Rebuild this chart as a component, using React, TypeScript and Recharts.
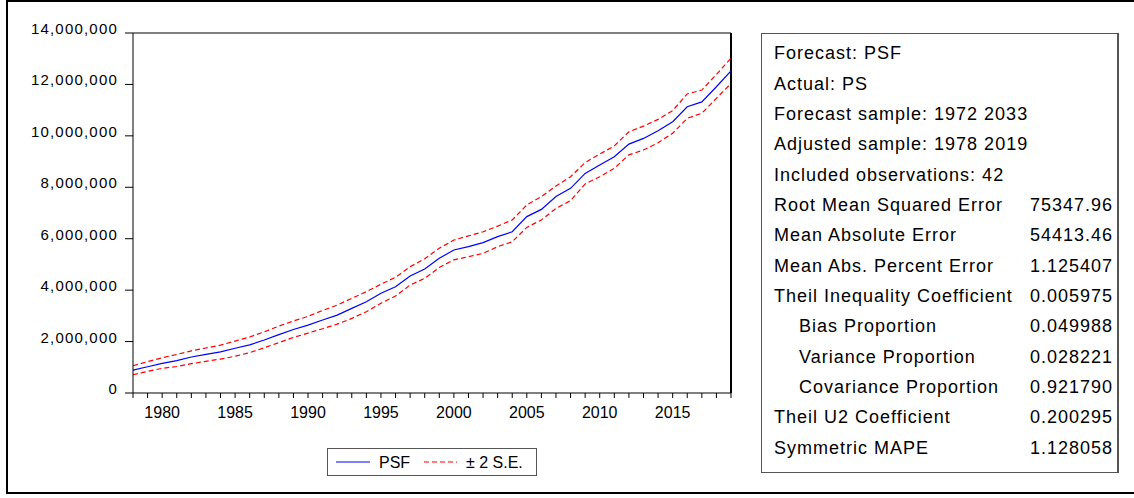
import { LineChart, Line, XAxis, YAxis, ReferenceLine } from 'recharts'

const years = [
  1978, 1979, 1980, 1981, 1982, 1983, 1984, 1985, 1986, 1987, 1988, 1989, 1990, 1991,
  1992, 1993, 1994, 1995, 1996, 1997, 1998, 1999, 2000, 2001, 2002, 2003, 2004, 2005,
  2006, 2007, 2008, 2009, 2010, 2011, 2012, 2013, 2014, 2015, 2016, 2017, 2018, 2019,
]

// forecast PSF
const psf = [
  890000, 1020000, 1150000, 1260000, 1400000, 1500000, 1600000, 1740000, 1870000, 2060000,
  2270000, 2470000, 2640000, 2840000, 3030000, 3290000, 3550000, 3880000, 4130000, 4550000,
  4820000, 5240000, 5560000, 5690000, 5850000, 6080000, 6270000, 6860000, 7140000, 7640000,
  7960000, 8540000, 8870000, 9190000, 9680000, 9900000, 10200000, 10550000, 11130000,
  11320000, 11910000, 12530000,
]

// +2 S.E.
const upperBand = [
  1060000, 1220000, 1370000, 1500000, 1640000, 1750000, 1860000, 2020000, 2180000, 2380000,
  2600000, 2800000, 2980000, 3210000, 3420000, 3680000, 3940000, 4230000, 4500000, 4910000,
  5220000, 5630000, 5950000, 6110000, 6270000, 6490000, 6730000, 7310000, 7640000, 8050000,
  8410000, 8960000, 9290000, 9610000, 10160000, 10380000, 10640000, 10980000, 11630000,
  11780000, 12390000, 13020000,
]

// -2 S.E.
const lowerBand = [
  710000, 840000, 960000, 1030000, 1140000, 1230000, 1320000, 1430000, 1570000, 1760000,
  1960000, 2160000, 2330000, 2500000, 2680000, 2900000, 3160000, 3490000, 3770000, 4200000,
  4460000, 4880000, 5180000, 5300000, 5430000, 5690000, 5880000, 6440000, 6730000, 7180000,
  7480000, 8130000, 8410000, 8740000, 9260000, 9450000, 9730000, 10100000, 10680000,
  10880000, 11460000, 12040000,
]

const yTicks = [0, 2000000, 4000000, 6000000, 8000000, 10000000, 12000000, 14000000]
const xLabels = [1980, 1985, 1990, 1995, 2000, 2005, 2010, 2015]

const statLabels = [
  'Forecast: PSF',
  'Actual: PS',
  'Forecast sample: 1972 2033',
  'Adjusted sample: 1978 2019',
  'Included observations: 42',
  'Root Mean Squared Error',
  'Mean Absolute Error',
  'Mean Abs. Percent Error',
  'Theil Inequality Coefficient',
  'Bias Proportion',
  'Variance Proportion',
  'Covariance Proportion',
  'Theil U2 Coefficient',
  'Symmetric MAPE',
]
const statValues = [
  '', '', '', '', '',
  '75347.96', '54413.46', '1.125407', '0.005975',
  '0.049988', '0.028221', '0.921790', '0.200295', '1.128058',
]
const statIndent = [
  false, false, false, false, false, false, false, false, false,
  true, true, true, false, false,
]

const data = years.map((year, i) => ({
  year,
  psf: psf[i],
  upper: upperBand[i],
  lower: lowerBand[i],
}))

const FONT = '"Liberation Sans", Arial, sans-serif'

function YTick(props: any) {
  const { x, y, payload } = props
  return (
    <text
      x={x}
      y={y + 1}
      textAnchor="end"
      fontFamily={FONT}
      fontSize={15}
      letterSpacing={1.2}
      fill="#000"
    >
      {payload.value.toLocaleString('en-US')}
    </text>
  )
}

function XTick(props: any) {
  const { x, y, payload } = props
  if (!xLabels.includes(payload.value)) return <g />
  return (
    <text x={x} y={y + 18} textAnchor="middle" fontFamily={FONT} fontSize={16} fill="#000">
      {payload.value}
    </text>
  )
}

export default function App() {
  return (
    <div
      style={{
        position: 'absolute',
        left: 0,
        top: 0,
        width: 1134,
        height: 498,
        background: '#fff',
        overflow: 'hidden',
        fontFamily: FONT,
      }}
    >
      {/* page frame */}
      <div
        style={{
          position: 'absolute',
          left: 6,
          top: 0,
          width: 1200,
          height: 494,
          boxSizing: 'border-box',
          border: '2px solid #000',
        }}
      />

      <div style={{ position: 'absolute', left: 0, top: 0 }}>
        <LineChart
          width={760}
          height={430}
          data={data}
          margin={{ top: 33, right: 29, left: 0, bottom: 0 }}
        >
          <XAxis
            dataKey="year"
            type="number"
            domain={[1978, 2019]}
            ticks={years}
            interval={0}
            height={37}
            tickSize={5}
            tickMargin={2}
            axisLine={{ stroke: '#000' }}
            tickLine={{ stroke: '#000' }}
            tick={<XTick />}
          />
          <YAxis
            type="number"
            domain={[0, 14000000]}
            ticks={yTicks}
            interval={0}
            width={133}
            tickSize={8}
            tickMargin={7}
            axisLine={{ stroke: '#000' }}
            tickLine={{ stroke: '#000' }}
            tick={<YTick />}
          />
          <ReferenceLine y={14000000} stroke="#000" strokeWidth={1} />
          <ReferenceLine x={2019} stroke="#000" strokeWidth={2} />
          <Line
            type="linear"
            dataKey="upper"
            stroke="#ff0000"
            strokeWidth={1.2}
            strokeDasharray="5 3"
            dot={false}
            isAnimationActive={false}
          />
          <Line
            type="linear"
            dataKey="lower"
            stroke="#ff0000"
            strokeWidth={1.2}
            strokeDasharray="5 3"
            dot={false}
            isAnimationActive={false}
          />
          <Line
            type="linear"
            dataKey="psf"
            stroke="#0000ff"
            strokeWidth={1.2}
            dot={false}
            isAnimationActive={false}
          />
        </LineChart>
      </div>

      {/* legend */}
      <svg
        width={211}
        height={29}
        style={{ position: 'absolute', left: 327, top: 448 }}
      >
        <rect x={0.5} y={0.5} width={209} height={27} fill="#fff" stroke="#555" />
        <line x1={9} x2={43} y1={14} y2={14} stroke="#0000ff" strokeWidth={1.2} />
        <text x={52} y={19.5} fontFamily={FONT} fontSize={16} fill="#000">
          PSF
        </text>
        <line
          x1={97}
          x2={130}
          y1={14}
          y2={14}
          stroke="#ff0000"
          strokeWidth={1.2}
          strokeDasharray="5 3"
        />
        <text x={139} y={19.5} fontFamily={FONT} fontSize={16} fill="#000">
          ± 2 S.E.
        </text>
      </svg>

      {/* forecast evaluation table */}
      <div
        style={{
          position: 'absolute',
          left: 761,
          top: 33,
          width: 358,
          height: 440,
          boxSizing: 'border-box',
          border: '1px solid #555',
          borderRightWidth: 2,
          background: '#fff',
        }}
      >
        {statLabels.map((label, i) => (
          <div
            key={label}
            style={{
              position: 'absolute',
              left: statIndent[i] ? 37 : 12,
              right: 4,
              top: 5.3 + i * 30.33 - 1,
              height: 30.33,
              lineHeight: '30.33px',
              fontSize: 18,
              letterSpacing: 1.0,
              color: '#000',
              whiteSpace: 'nowrap',
            }}
          >
            <span>{label}</span>
            <span style={{ position: 'absolute', right: 0 }}>{statValues[i]}</span>
          </div>
        ))}
      </div>
    </div>
  )
}
